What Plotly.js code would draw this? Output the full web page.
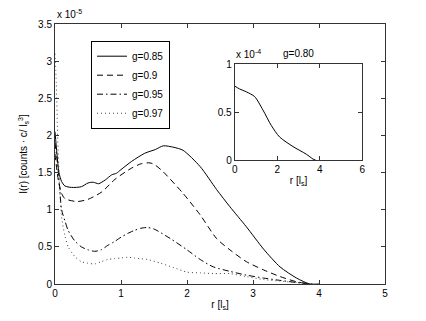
<!DOCTYPE html>
<html>
<head>
<meta charset="utf-8">
<script src="https://cdn.plot.ly/plotly-3.0.1.min.js"></script>
<style>
  html, body { margin: 0; padding: 0; background: #fff; }
  #chart { width: 426px; height: 321px; }
</style>
</head>
<body>
<div id="chart"></div>
<script>
// radial intensity profiles, I(r) in units of 1e-5
const rG85 = [0, 0.03, 0.06, 0.1, 0.15, 0.25, 0.4, 0.5, 0.58, 0.66, 0.76, 0.86, 0.93, 1.0, 1.16, 1.36, 1.52, 1.64, 1.8, 1.94, 2.2, 2.45, 2.65, 2.9, 3.16, 3.41, 3.66, 3.86, 4.0];
const iG85 = [2.05, 1.75, 1.5, 1.38, 1.32, 1.30, 1.31, 1.36, 1.37, 1.35, 1.40, 1.47, 1.49, 1.54, 1.65, 1.76, 1.81, 1.86, 1.84, 1.80, 1.58, 1.27, 1.04, 0.77, 0.47, 0.23, 0.08, 0.0, 0.0];

const rG90 = [0, 0.05, 0.1, 0.15, 0.33, 0.5, 0.71, 0.91, 1.16, 1.31, 1.44, 1.52, 1.64, 1.94, 2.2, 2.45, 2.65, 2.9, 3.16, 3.41, 3.66, 3.86];
const iG90 = [1.75, 1.4, 1.22, 1.15, 1.11, 1.14, 1.24, 1.41, 1.56, 1.62, 1.63, 1.60, 1.51, 1.22, 0.93, 0.61, 0.46, 0.30, 0.19, 0.10, 0.03, 0.0];

const rG95 = [0, 0.04, 0.07, 0.1, 0.15, 0.2, 0.3, 0.4, 0.5, 0.6, 0.7, 0.8, 0.9, 1.0, 1.1, 1.2, 1.3, 1.4, 1.5, 1.75, 2.0, 2.2, 2.4, 2.65, 2.9, 3.16, 3.4, 3.66, 3.9];
const iG95 = [1.9, 1.6, 1.3, 1.0, 0.85, 0.72, 0.58, 0.5, 0.46, 0.44, 0.46, 0.52, 0.57, 0.63, 0.68, 0.72, 0.75, 0.76, 0.74, 0.61, 0.46, 0.33, 0.23, 0.17, 0.12, 0.08, 0.05, 0.02, 0.0];

const rG97 = [0, 0.02, 0.04, 0.07, 0.1, 0.15, 0.2, 0.3, 0.4, 0.5, 0.6, 0.7, 0.8, 0.9, 1.0, 1.1, 1.2, 1.3, 1.4, 1.6, 1.8, 2.0, 2.2, 2.4, 2.65, 2.9, 3.16, 3.4, 3.66, 3.9];
const iG97 = [3.1, 2.7, 2.0, 1.3, 0.9, 0.65, 0.5, 0.37, 0.3, 0.28, 0.27, 0.3, 0.33, 0.34, 0.35, 0.36, 0.35, 0.34, 0.33, 0.28, 0.22, 0.16, 0.15, 0.14, 0.14, 0.10, 0.06, 0.04, 0.02, 0.0];

// inset, g=0.80, units of 1e-4
const rG80 = [0, 0.23, 0.55, 0.94, 1.33, 1.72, 2.11, 2.74, 3.37, 3.68, 3.8];
const iG80 = [0.77, 0.74, 0.71, 0.66, 0.52, 0.36, 0.24, 0.14, 0.06, 0.01, 0.0];

const FONT = { family: 'Liberation Sans, Arial, sans-serif', size: 10, color: '#000' };
const AX = '#333';

function curve(x, y, name, color, dash) {
  return { x: x, y: y, name: name, mode: 'lines',
    line: { color: color, width: 1, dash: dash, shape: 'spline', smoothing: 0.7 } };
}

const inset = curve(rG80, iG80, 'g=0.80', '#000', 'solid');
inset.xaxis = 'x2';
inset.yaxis = 'y2';
inset.showlegend = false;

const traces = [
  curve(rG85, iG85, 'g=0.85', '#000', 'solid'),
  curve(rG90, iG90, 'g=0.9', '#000', '6px,4px'),
  curve(rG95, iG95, 'g=0.95', '#000', '6px,3px,1.5px,3px'),
  curve(rG97, iG97, 'g=0.97', '#444', '1px,3px'),
  inset,
];

const px = (v) => v / 426;
const py = (v) => 1 - v / 321;

const axisBase = {
  showline: true, linecolor: AX, linewidth: 1, mirror: 'ticks',
  ticks: 'inside', ticklen: 4, tickcolor: AX,
  showgrid: false, zeroline: false, tickfont: FONT,
};

const layout = {
  width: 426, height: 321,
  margin: { l: 0, r: 0, t: 0, b: 0 },
  paper_bgcolor: '#fff', plot_bgcolor: '#fff',
  font: FONT,
  xaxis: Object.assign({}, axisBase, {
    domain: [px(55), px(385)], range: [0, 5], tickvals: [0, 1, 2, 3, 4, 5],
    title: { text: 'r [l<sub>s</sub>]', font: FONT, standoff: 2 },
  }),
  yaxis: Object.assign({}, axisBase, {
    domain: [py(284), py(24)], range: [0, 3.5], tickvals: [0, 0.5, 1, 1.5, 2, 2.5, 3, 3.5],
    title: { text: 'I(r) [counts · c/ l<sub>s</sub><sup>3</sup>]', font: FONT, standoff: 8 },
  }),
  xaxis2: Object.assign({}, axisBase, {
    domain: [px(234.7), px(362.3)], range: [0, 6], tickvals: [0, 2, 4, 6],
    anchor: 'y2',
    title: { text: 'r [l<sub>s</sub>]', font: FONT, standoff: 2 },
  }),
  yaxis2: Object.assign({}, axisBase, {
    domain: [py(160), py(64)], range: [0, 1], tickvals: [0, 0.5, 1],
    anchor: 'x2',
  }),
  showlegend: true,
  legend: {
    x: px(91), y: py(40.7), xanchor: 'left', yanchor: 'top',
    bgcolor: '#fff', bordercolor: '#000', borderwidth: 1,
    font: FONT, tracegroupgap: 0,
  },
  annotations: [
    { xref: 'paper', yref: 'paper', x: px(55), y: py(22), xanchor: 'left', yanchor: 'bottom',
      text: 'x 10<sup>-5</sup>', showarrow: false, font: FONT },
    { xref: 'paper', yref: 'paper', x: px(234), y: py(62), xanchor: 'left', yanchor: 'bottom',
      text: 'x 10<sup>-4</sup>', showarrow: false, font: FONT },
    { xref: 'paper', yref: 'paper', x: px(298.5), y: py(53), xanchor: 'center', yanchor: 'middle',
      text: 'g=0.80', showarrow: false, font: FONT },
  ],
};

Plotly.newPlot('chart', traces, layout, { displayModeBar: false, staticPlot: true });
</script>
</body>
</html>
